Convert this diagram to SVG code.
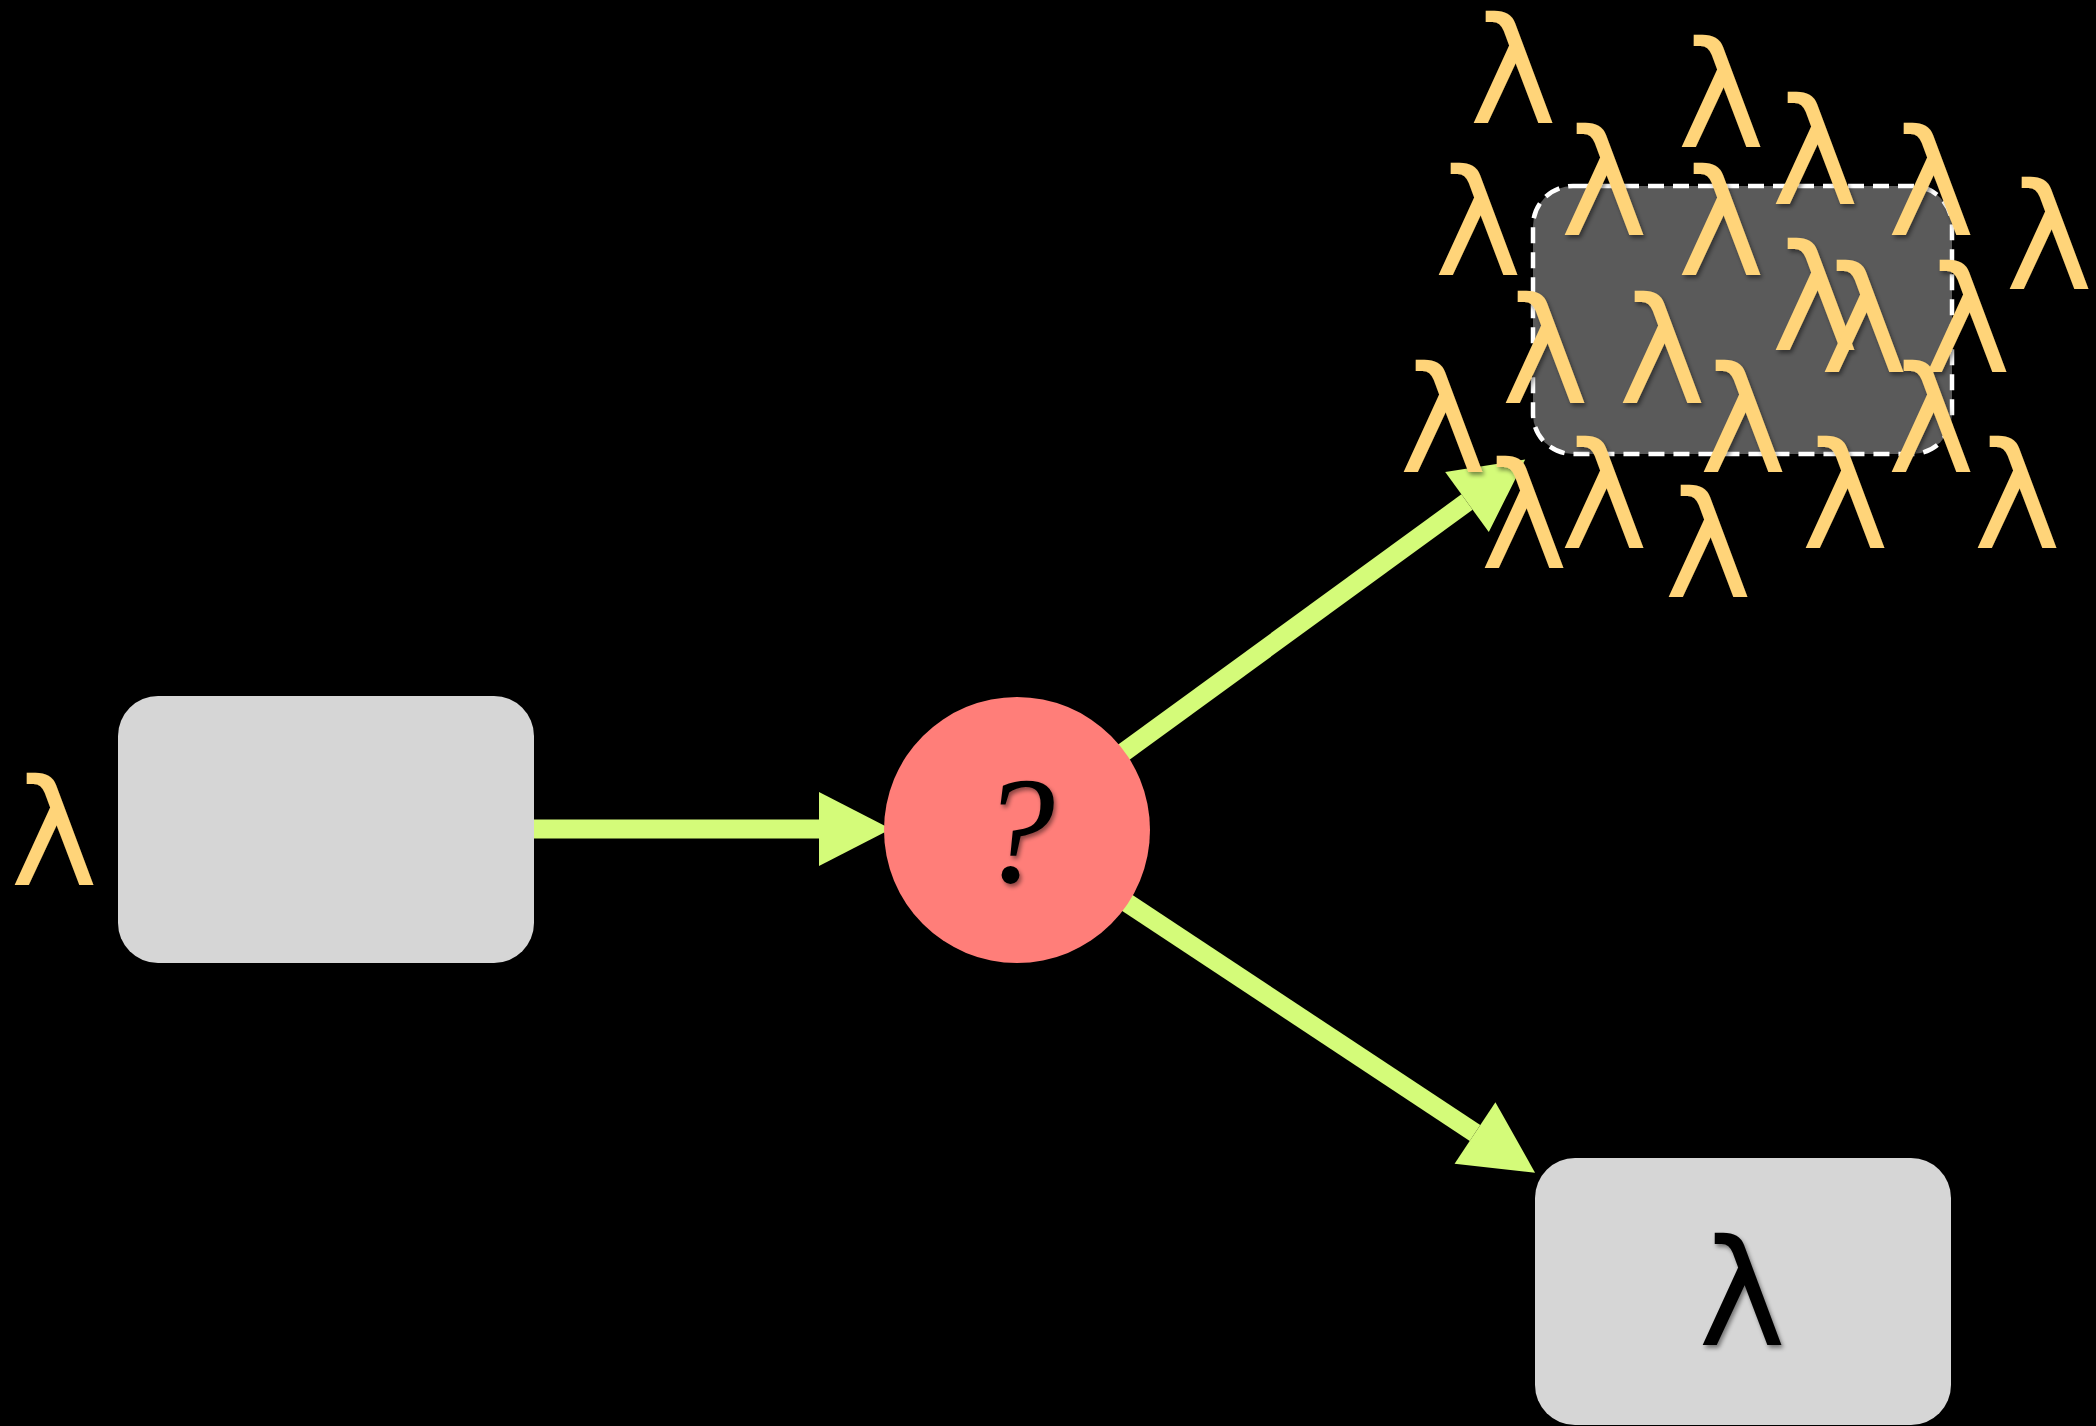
<svg xmlns="http://www.w3.org/2000/svg" width="2096" height="1426" viewBox="0 0 2096 1426">
<defs>
<style>
.lam{font-family:"DejaVu Sans",sans-serif;font-size:148px;fill:#FFD479;text-anchor:middle}
.lamk{font-family:"DejaVu Sans",sans-serif;font-size:148px;fill:#000;text-anchor:middle}
.conn{stroke:#D4FB79;stroke-width:19;fill:none}
.box{fill:#D6D6D6}
</style>
<marker id="head" markerUnits="userSpaceOnUse" markerWidth="72" markerHeight="74" viewBox="0 0 72 74" refX="0" refY="37" orient="auto" overflow="visible">
<path d="M0,0 L72,37 L0,74 Z" fill="#D4FB79"/>
</marker>
<filter id="sh" x="-20%" y="-20%" width="140%" height="140%">
<feDropShadow dx="2" dy="3" stdDeviation="2" flood-color="#000" flood-opacity="0.45"/>
</filter>
</defs>
<rect x="0" y="0" width="2096" height="1426" fill="#000"/>
<g id="connectors">
<line class="conn" x1="533" y1="829" x2="819" y2="829" marker-end="url(#head)"/>
<line class="conn" x1="1017" y1="830" x2="1467" y2="502" marker-end="url(#head)"/>
<line class="conn" x1="1017" y1="830" x2="1475" y2="1133" marker-end="url(#head)"/>
</g>
<g id="source">
<rect class="box" x="118" y="696" width="416" height="267" rx="40" ry="40"/>
<text class="lam" x="54" y="885" filter="url(#sh)">λ</text>
</g>
<g id="decision">
<circle cx="1017" cy="830" r="133" fill="#FF7E79"/>
<text x="1017" y="882" font-family="Liberation Serif, serif" font-style="italic" font-size="152" text-anchor="middle" fill="#000" filter="url(#sh)">?</text>
</g>
<g id="result">
<rect class="box" x="1535" y="1158" width="416" height="267" rx="40" ry="40"/>
<text class="lamk" x="1742" y="1345" filter="url(#sh)">λ</text>
</g>
<g id="scattered">
<rect x="1533" y="186" width="419" height="268" rx="40" ry="40" fill="#5A5A5A" stroke="#FFFFFF" stroke-width="4.5" stroke-dasharray="16 9"/>
<g filter="url(#sh)">
<text class="lam" x="1513" y="123">λ</text>
<text class="lam" x="1721" y="147">λ</text>
<text class="lam" x="1815" y="204">λ</text>
<text class="lam" x="1931" y="235">λ</text>
<text class="lam" x="1604" y="235">λ</text>
<text class="lam" x="1478" y="275">λ</text>
<text class="lam" x="1721" y="275">λ</text>
<text class="lam" x="2049" y="289">λ</text>
<text class="lam" x="1815" y="350">λ</text>
<text class="lam" x="1864" y="372">λ</text>
<text class="lam" x="1967" y="372">λ</text>
<text class="lam" x="1545" y="403">λ</text>
<text class="lam" x="1662" y="403">λ</text>
<text class="lam" x="1443" y="472">λ</text>
<text class="lam" x="1743" y="472">λ</text>
<text class="lam" x="1931" y="472">λ</text>
<text class="lam" x="1524" y="568">λ</text>
<text class="lam" x="1604" y="548">λ</text>
<text class="lam" x="1708" y="597">λ</text>
<text class="lam" x="1845" y="548">λ</text>
<text class="lam" x="2017" y="548">λ</text>
</g>
</g>
</svg>
